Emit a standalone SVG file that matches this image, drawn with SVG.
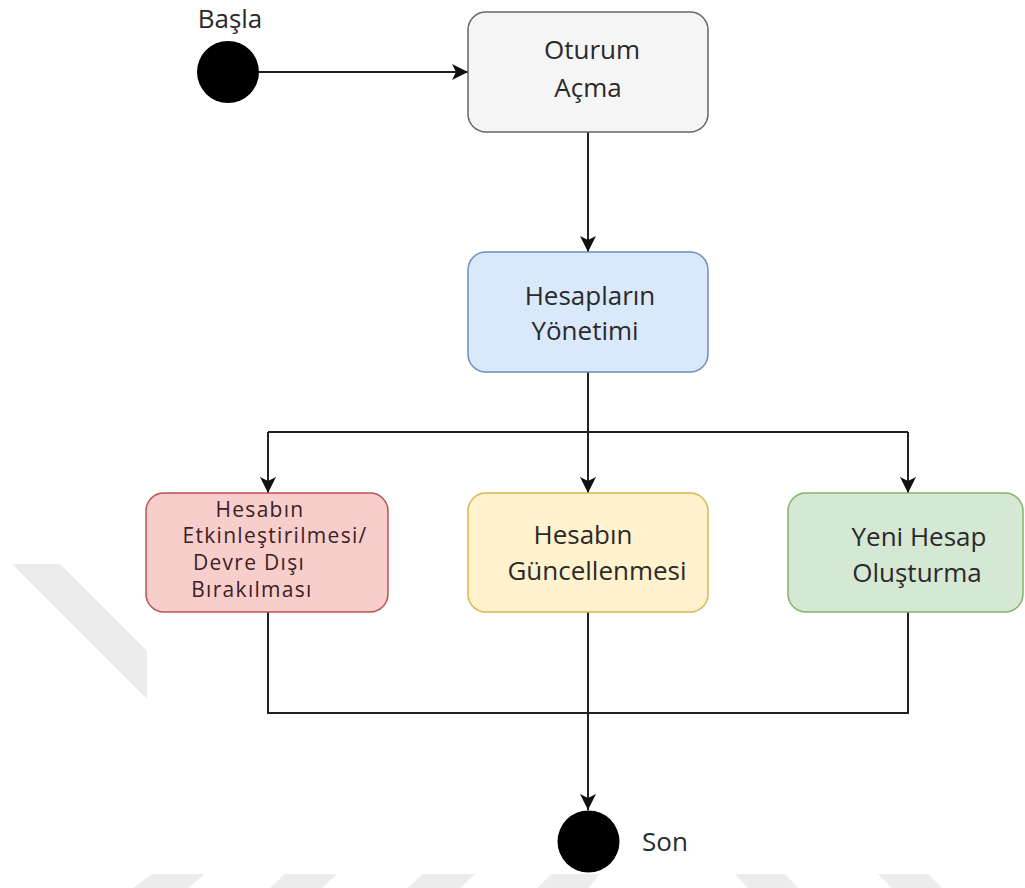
<svg xmlns="http://www.w3.org/2000/svg" width="1025" height="888" viewBox="0 0 1025 888">
  <style>
    .lbl { font-family: "Open Sans", "Liberation Sans", sans-serif; font-size: 26px; fill: #2a2a2a; text-anchor: middle; }
    .small { font-size: 21px; letter-spacing: 1.3px; fill: #3b2222; }
    .box { stroke-width: 1.5; }
    .edge { fill: none; stroke: #222222; stroke-width: 2; }
    .mark { fill: #ececec; }
  </style>
  <defs>
    <marker id="arrow" markerUnits="userSpaceOnUse" markerWidth="17" markerHeight="16" refX="16" refY="8" orient="auto">
      <path d="M0,0 L16,8 L0,16 L4,8 Z" fill="#111111"/>
    </marker>
  </defs>

  <rect width="1025" height="888" fill="#ffffff"/>

  <!-- faint background bands -->
  <g id="bands">
    <polygon class="mark" points="12,564 60,564 147,651 147,699"/>
    <polygon class="mark" points="152,874 205,874 188,888 133,888"/>
    <polygon class="mark" points="285,874 337,874 322,888 270,888"/>
    <polygon class="mark" points="423,874 475,874 460,888 408,888"/>
    <polygon class="mark" points="552,874 600,874 588,888 537,888"/>
    <polygon class="mark" points="735,874 785,874 798,888 748,888"/>
    <polygon class="mark" points="878,874 928,874 942,888 892,888"/>
  </g>

  <!-- connectors -->
  <g id="connectors">
    <line class="edge" x1="259" y1="72" x2="468" y2="72" marker-end="url(#arrow)"/>
    <line class="edge" x1="588" y1="132" x2="588" y2="252" marker-end="url(#arrow)"/>
    <polyline class="edge" points="588,372 588,432"/>
    <polyline class="edge" points="268,432 908,432"/>
    <line class="edge" x1="268" y1="432" x2="268" y2="493" marker-end="url(#arrow)"/>
    <line class="edge" x1="588" y1="432" x2="588" y2="493" marker-end="url(#arrow)"/>
    <line class="edge" x1="908" y1="432" x2="908" y2="493" marker-end="url(#arrow)"/>
    <polyline class="edge" points="268,612 268,713 908,713 908,612"/>
    <line class="edge" x1="588" y1="612" x2="588" y2="810" marker-end="url(#arrow)"/>
  </g>

  <!-- start -->
  <g id="start">
    <circle cx="228" cy="72" r="31" fill="#000000"/>
    <text class="lbl" x="230" y="28">Başla</text>
  </g>

  <g id="oturum">
    <rect class="box" x="468" y="12" width="240" height="120" rx="18" fill="#f5f5f5" stroke="#666666"/>
    <text class="lbl" x="592" y="59">Oturum</text>
    <text class="lbl" x="588" y="97">Açma</text>
  </g>

  <g id="yonetim">
    <rect class="box" x="468" y="252" width="240" height="120" rx="18" fill="#dae8fc" stroke="#6c8ebf"/>
    <text class="lbl" x="590" y="305">Hesapların</text>
    <text class="lbl" x="585" y="340">Yönetimi</text>
  </g>

  <g id="etkinlestirme">
    <rect class="box" x="146" y="493" width="242" height="119" rx="18" fill="#f8cecc" stroke="#b85450"/>
    <text class="lbl small" x="260" y="517">Hesabın</text>
    <text class="lbl small" x="275" y="543">Etkinleştirilmesi/</text>
    <text class="lbl small" x="249" y="570">Devre Dışı</text>
    <text class="lbl small" x="252" y="597">Bırakılması</text>
  </g>

  <g id="guncelleme">
    <rect class="box" x="468" y="493" width="240" height="119" rx="18" fill="#fff2cc" stroke="#d6b656"/>
    <text class="lbl" x="583" y="544">Hesabın</text>
    <text class="lbl" x="597" y="580">Güncellenmesi</text>
  </g>

  <g id="yeni">
    <rect class="box" x="788" y="493" width="235" height="119" rx="18" fill="#d5e8d4" stroke="#82b366"/>
    <text class="lbl" x="919" y="546">Yeni Hesap</text>
    <text class="lbl" x="917" y="582">Oluşturma</text>
  </g>

  <!-- end -->
  <g id="end">
    <circle cx="588.5" cy="841.5" r="31" fill="#000000"/>
    <text class="lbl" x="665" y="851">Son</text>
  </g>
</svg>
